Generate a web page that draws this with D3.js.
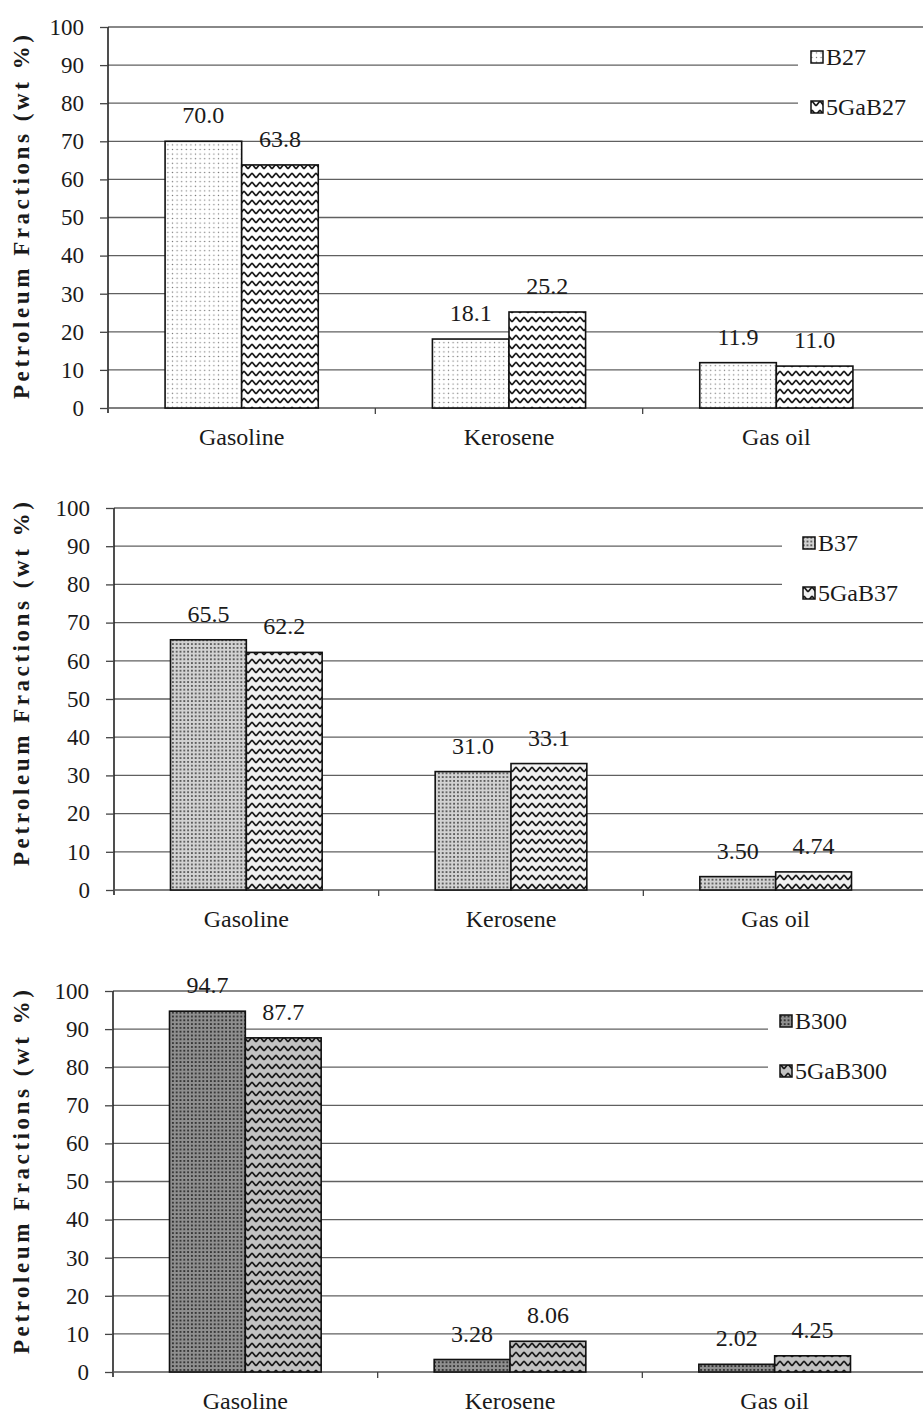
<!DOCTYPE html>
<html>
<head>
<meta charset="utf-8">
<script src="https://cdn.jsdelivr.net/npm/d3@7/dist/d3.min.js"></script>
<style>
  html, body { margin: 0; padding: 0; background: #fff; }
  svg { display: block; }
  text { font-family: "Liberation Serif", "Times New Roman", serif; fill: #1a1a1a; }
</style>
</head>
<body>
<div id="chart"></div>
<script>
// Petroleum fraction distributions (wt %) for three catalyst pairs
const categories = ["Gasoline", "Kerosene", "Gas oil"];

const seriesB27 = [70.0, 18.1, 11.9];
const series5GaB27 = [63.8, 25.2, 11.0];

const seriesB37 = [65.5, 31.0, 3.50];
const series5GaB37 = [62.2, 33.1, 4.74];

const seriesB300 = [94.7, 3.28, 2.02];
const series5GaB300 = [87.7, 8.06, 4.25];

const yTicks = [0, 10, 20, 30, 40, 50, 60, 70, 80, 90, 100];
const yTitle = "Petroleum Fractions (wt %)";

// panel layout: pixel geometry of each stacked chart
const panels = [
  { names: ["B27", "5GaB27"], values: [seriesB27, series5GaB27], fills: ["dotsLight", "wavesWhite"],
    yTop: 27, yBottom: 408, xLeft: 108, xRight: 910, titleY: 217,
    legendX: 811, legendY: [57, 107], legendBox: 798 },
  { names: ["B37", "5GaB37"], values: [seriesB37, series5GaB37], fills: ["dotsMid", "wavesLight"],
    yTop: 508, yBottom: 890, xLeft: 114, xRight: 908, titleY: 684,
    legendX: 803, legendY: [543, 593], legendBox: 782 },
  { names: ["B300", "5GaB300"], values: [seriesB300, series5GaB300], fills: ["dotsDark", "wavesGrey"],
    yTop: 991, yBottom: 1372, xLeft: 113, xRight: 907, titleY: 1172,
    legendX: 780, legendY: [1021, 1071], legendBox: 768 }
];

const W = 923, H = 1416;
const svg = d3.select("#chart").append("svg").attr("width", W).attr("height", H);
const defs = svg.append("defs");

// staggered dot fills
function dotPattern(id, step, bg, dot, r) {
  const s = step * 2;
  const p = defs.append("pattern").attr("id", id).attr("patternUnits", "userSpaceOnUse")
    .attr("width", s).attr("height", s);
  p.append("rect").attr("width", s).attr("height", s).attr("fill", bg);
  [[0.5, 0.5], [1.5, 1.5]].forEach(([cx, cy]) => {
    p.append("circle").attr("cx", cx * step).attr("cy", cy * step).attr("r", r).attr("fill", dot);
  });
  [[1.5, 0.5], [0.5, 1.5]].forEach(([cx, cy]) => {
    p.append("circle").attr("cx", cx * step).attr("cy", cy * step).attr("r", r * 0.9).attr("fill", dot);
  });
}
dotPattern("dotsLight", 4.6, "#ffffff", "#7a7a7a", 0.75);
dotPattern("dotsMid", 3.8, "#d2d2d2", "#333333", 0.95);
dotPattern("dotsDark", 3.8, "#8f8f8f", "#1e1e1e", 1.05);

// wavy zigzag fills
function wavePattern(id, bg, stroke) {
  const w = 8, h = 9;
  const p = defs.append("pattern").attr("id", id).attr("patternUnits", "userSpaceOnUse")
    .attr("width", w).attr("height", h);
  p.append("rect").attr("width", w).attr("height", h).attr("fill", bg);
  p.append("path")
    .attr("d", `M-4,2.2 L-0.6,6.2 Q0,6.8 0.6,6.2 L3.4,2.8 Q4,2.2 4.6,2.8 L7.4,6.2 Q8,6.8 8.6,6.2 L12,2.2`)
    .attr("fill", "none").attr("stroke", stroke).attr("stroke-width", 1.7)
    .attr("stroke-linejoin", "round").attr("stroke-linecap", "round");
}
wavePattern("wavesWhite", "#ffffff", "#1a1a1a");
wavePattern("wavesLight", "#f0f0f0", "#1a1a1a");
wavePattern("wavesGrey", "#c2c2c2", "#1a1a1a");

const fmt = d3.format(".3r");

panels.forEach(pn => {
  const g = svg.append("g");
  const y = d3.scaleLinear().domain([0, 100]).range([pn.yBottom, pn.yTop]);
  const x = d3.scaleBand().domain(categories).range([pn.xLeft, pn.xRight]).padding(0);
  const groupW = x.bandwidth() * 0.573;
  const xs = d3.scaleBand().domain(pn.names).range([0, groupW]).padding(0);

  // gridlines
  g.append("g").selectAll("line").data(yTicks.filter(t => t > 0)).join("line")
    .attr("x1", pn.xLeft).attr("x2", W)
    .attr("y1", d => y(d)).attr("y2", d => y(d))
    .attr("stroke", "#606060").attr("stroke-width", 1.3);

  // y axis with outward ticks
  const yAxis = g.append("g").attr("transform", `translate(${pn.xLeft},0)`)
    .call(d3.axisLeft(y).tickValues(yTicks).tickSize(8).tickPadding(16));
  yAxis.attr("font-family", null);
  yAxis.select(".domain").attr("stroke", "#222").attr("stroke-width", 1.6)
    .attr("d", `M-0,${pn.yTop}V${pn.yBottom + 5}`);
  yAxis.selectAll(".tick line").attr("stroke", "#444").attr("stroke-width", 1.3);
  yAxis.selectAll(".tick text").attr("font-size", 23).attr("fill", "#1a1a1a");

  // x axis along zero with category separator ticks
  const xAxis = g.append("g").attr("transform", `translate(0,${pn.yBottom})`)
    .call(d3.axisBottom(x).tickSize(0).tickPadding(14));
  xAxis.attr("font-family", null);
  xAxis.select(".domain").attr("stroke", "#555").attr("stroke-width", 1.4)
    .attr("d", `M${pn.xLeft},0H${W}`);
  xAxis.selectAll(".tick text").attr("font-size", 24).attr("fill", "#1a1a1a").attr("dy", "0.95em");
  g.append("g").selectAll("line").data(categories.slice(1)).join("line")
    .attr("x1", d => x(d)).attr("x2", d => x(d))
    .attr("y1", pn.yBottom).attr("y2", pn.yBottom + 6)
    .attr("stroke", "#444").attr("stroke-width", 1.3);

  // bars with value labels
  pn.names.forEach((name, si) => {
    const vals = pn.values[si];
    const bx = c => x(c) + (x.bandwidth() - groupW) / 2 + xs(name);
    g.append("g").selectAll("rect").data(categories).join("rect")
      .attr("x", c => bx(c))
      .attr("y", (c, i) => y(vals[i]))
      .attr("width", xs.bandwidth())
      .attr("height", (c, i) => y(0) - y(vals[i]))
      .attr("fill", `url(#${pn.fills[si]})`)
      .attr("stroke", "#111").attr("stroke-width", 1.6);
    g.append("g").selectAll("text").data(categories).join("text")
      .attr("x", c => bx(c) + xs.bandwidth() / 2)
      .attr("y", (c, i) => y(vals[i]) - 18)
      .attr("text-anchor", "middle").attr("font-size", 24)
      .text((c, i) => fmt(vals[i]));
  });

  // y axis title
  g.append("text")
    .attr("transform", `translate(29,${pn.titleY}) rotate(-90)`)
    .attr("text-anchor", "middle").attr("font-size", 23).attr("font-weight", "bold")
    .attr("textLength", 364).attr("lengthAdjust", "spacing")
    .text(yTitle);

  // legend
  const lg = g.append("g");
  lg.append("rect").attr("x", pn.legendBox).attr("y", pn.legendY[0] - 22)
    .attr("width", W - pn.legendBox).attr("height", pn.legendY[1] - pn.legendY[0] + 44)
    .attr("fill", "#fff");
  pn.names.forEach((name, si) => {
    const cy = pn.legendY[si];
    lg.append("rect").attr("x", pn.legendX).attr("y", cy - 6).attr("width", 12).attr("height", 12)
      .attr("fill", `url(#${pn.fills[si]})`).attr("stroke", "#111").attr("stroke-width", 1.5);
    lg.append("text").attr("x", pn.legendX + 15).attr("y", cy).attr("dy", "0.35em")
      .attr("font-size", 24).text(name);
  });
});
</script>
</body>
</html>
